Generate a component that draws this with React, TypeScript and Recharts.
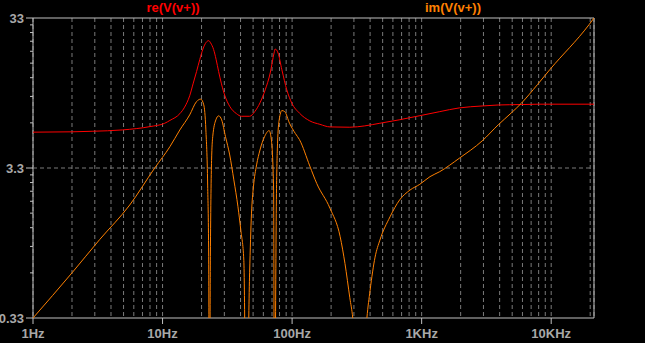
import { LineChart, Line, XAxis, YAxis, CartesianGrid, ReferenceLine, ReferenceArea } from "recharts"

// re(V(v+)) magnitude
const reFreq = [
  1, 2, 2.9, 4.9, 8, 10.4, 11.4, 13.6, 14.8, 16.2, 17.2, 18.3, 19.4, 20.5, 21.7, 22.7, 23.5, 24.8, 25.9,
  27.1, 28.5, 30.3, 33, 37.2, 40.7, 47, 51.5, 56.5, 62, 67.8, 72.6, 74, 77.9, 83.4, 91, 99.5, 114, 137,
  164, 196, 279, 364, 476, 670, 956, 1380, 1950, 2930, 3900, 5870, 8000, 21400,
]
const reMag = [
  5.72, 5.75, 5.8, 5.92, 6.23, 6.56, 6.85, 7.6, 8.4, 10.0, 12.0, 14.5, 17.5, 20.5, 22.7, 23.3, 22.5, 20.3,
  17.5, 14.5, 12.0, 10.0, 8.5, 7.6, 7.3, 7.3, 7.84, 8.97, 10.95, 14.2, 19.3, 20.5, 19.3, 14.9, 10.95,
  8.93, 7.66, 6.8, 6.45, 6.2, 6.17, 6.3, 6.56, 6.91, 7.35, 7.84, 8.3, 8.55, 8.68, 8.74, 8.79, 8.79,
]

// im(V(v+)) magnitude
const imFreq = [
  1, 2, 3.27, 5.58, 8.7, 11.4, 13.6, 16.2, 18.3, 19.7, 20.8, 21.6, 22.3, 22.7, 23.0, 23.4, 23.9, 24.4,
  25.8, 27.1, 28.6, 30.6, 33, 35.5, 38.2, 40.2, 42.4, 44.3, 47, 48.6, 50.3, 53.2, 56.5, 61.3, 66.5,
  69.2, 72, 73, 75.8, 77.2, 79.5, 83.4, 87.7, 95.5, 106, 114, 137, 155, 196, 235, 256, 279, 294, 335,
  378, 400, 437, 476, 570, 676, 812, 968, 1160, 1380, 1950, 2930, 3900, 4900, 5870, 7850, 9800, 19600,
  21400,
]
const imMag = [
  0.33, 0.66, 1.1, 1.87, 3.3, 4.58, 5.92, 7.46, 9.15, 9.5, 8.7, 5.92, 2.54, 0.85, 0.05, 0.85, 3.7, 5.34,
  6.91, 7.35, 6.91, 5.34, 4.03, 2.75, 1.82, 1.27, 0.8, 0.05, 0.66, 1.65, 2.47, 3.46, 4.35, 5.34, 5.86,
  5.08, 2.35, 0.05, 2.4, 4.83, 6.91, 7.97, 7.84, 6.56, 5.6, 5.1, 3.4, 2.6, 1.78, 1.15, 0.76, 0.45, 0.33,
  0.05, 0.33, 0.505, 0.84, 1.09, 1.56, 2.02, 2.35, 2.57, 2.89, 3.12, 3.83, 5.0, 6.4, 7.66, 8.9, 11.9,
  15.0, 29.8, 33,
]

const xTicks = [
  1, 2, 3, 4, 5, 6, 7, 8, 9, 10, 20, 30, 40, 50, 60, 70, 80, 90, 100, 200, 300, 400, 500, 600, 700,
  800, 900, 1000, 2000, 3000, 4000, 5000, 6000, 7000, 8000, 9000, 10000, 20000,
]
const xLabels: Record<string, string> = { "1": "1Hz", "10": "10Hz", "100": "100Hz", "1000": "1KHz", "10000": "10KHz" }

const yTicks = [
  0.33, 0.66, 0.99, 1.32, 1.65, 1.98, 2.31, 2.64, 2.97, 3.3, 6.6, 9.9, 13.2, 16.5, 19.8, 23.1, 26.4, 29.7, 33,
]
const yLabels: Record<string, string> = { "0.33": "0.33", "3.3": "3.3", "33": "33" }

const X_MIN = 1
const X_MAX = 21400
const Y_MIN = 0.33
const Y_MAX = 33

const FRAME = "#c0c0c0"
const GRID = "#7a7a7a"
const TEXT = "#a8a8a8"
const FONT = "'Liberation Sans', Arial, sans-serif"

const reData = reFreq.map((f, i) => ({ f, v: reMag[i] }))
const imData = imFreq.map((f, i) => ({ f, v: imMag[i] }))

function XTick(props: any) {
  const { x, y, payload } = props
  const label = xLabels[String(payload.value)]
  if (!label) return <g />
  return (
    <g>
      <line x1={x} y1={y} x2={x} y2={y + 6} stroke={FRAME} />
      <text x={x} y={y + 19.5} textAnchor="middle" fill={TEXT} fontSize={13} fontWeight="bold" fontFamily={FONT}>
        {label}
      </text>
    </g>
  )
}

function YTick(props: any) {
  const { x, y, payload } = props
  const label = yLabels[String(payload.value)]
  return (
    <g>
      <line x1={x - (label ? 7 : 3)} y1={y} x2={x} y2={y} stroke={FRAME} />
      {label && (
        <text x={x - 9} y={y + 4.5} textAnchor="end" fill={TEXT} fontSize={13} fontWeight="bold" fontFamily={FONT}>
          {label}
        </text>
      )}
    </g>
  )
}

const titleStyle = {
  position: "absolute" as const,
  top: 0,
  height: 16,
  lineHeight: "16px",
  width: 120,
  textAlign: "center" as const,
  fontFamily: FONT,
  fontWeight: "bold" as const,
  fontSize: 13,
}

export default function App() {
  return (
    <div style={{ position: "absolute", left: 0, top: 0, width: 645, height: 343, background: "#000", overflow: "hidden" }}>
      <div style={{ ...titleStyle, left: 173 - 60, color: "#ff0000" }}>re(V(v+))</div>
      <div style={{ ...titleStyle, left: 453 - 60, color: "#ff8000" }}>im(V(v+))</div>
      <LineChart width={645} height={343} margin={{ top: 18, right: 51, left: 0, bottom: 0 }}>
        <CartesianGrid vertical horizontal={false} stroke={GRID} strokeDasharray="4 3" />
        <XAxis
          dataKey="f"
          type="number"
          scale="log"
          domain={[X_MIN, X_MAX]}
          allowDataOverflow
          ticks={xTicks}
          interval={0}
          height={25}
          axisLine={false}
          tickLine={false}
          tickSize={0}
          tickMargin={0}
          tick={<XTick />}
        />
        <YAxis
          type="number"
          scale="log"
          domain={[Y_MIN, Y_MAX]}
          allowDataOverflow
          ticks={yTicks}
          interval={0}
          width={33}
          axisLine={false}
          tickLine={false}
          tickSize={0}
          tickMargin={0}
          tick={<YTick />}
        />
        <ReferenceLine y={3.3} stroke={GRID} strokeDasharray="4 3" />
        <Line data={reData} dataKey="v" type="monotoneX" stroke="#ff0000" strokeWidth={1} dot={false} isAnimationActive={false} />
        <Line data={imData} dataKey="v" type="monotoneX" stroke="#ff8000" strokeWidth={1} dot={false} isAnimationActive={false} />
        <ReferenceArea x1={X_MIN} x2={X_MAX} y1={Y_MIN} y2={Y_MAX} fill="none" stroke={FRAME} strokeWidth={1} />
      </LineChart>
    </div>
  )
}
